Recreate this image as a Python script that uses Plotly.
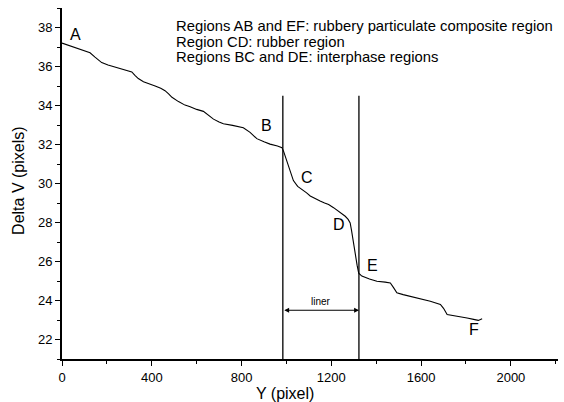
import plotly.graph_objects as go

# ---- data ----
y_pixel = [0, 20, 50, 80, 105, 125, 147, 177, 205, 236, 270, 311, 325, 340, 363, 390, 415, 440, 459, 475,
           490, 519, 548, 571, 600, 630, 655, 675, 700, 719, 760, 808, 838, 868, 900, 927, 960, 980, 987, 998,
           1009, 1031, 1050, 1069, 1090, 1106, 1130, 1150, 1170, 1188, 1210, 1232, 1250, 1262, 1275, 1284,
           1290, 1296, 1307, 1315, 1322, 1336, 1370, 1403, 1440, 1463, 1478, 1492, 1520, 1552, 1600, 1641,
           1686, 1700, 1716, 1740, 1775, 1805, 1834, 1855, 1872]
delta_v = [37.20, 37.12, 37.00, 36.90, 36.80, 36.70, 36.48, 36.20, 36.08, 35.98, 35.85, 35.72, 35.55, 35.38,
           35.22, 35.12, 35.00, 34.88, 34.76, 34.60, 34.42, 34.20, 34.02, 33.94, 33.80, 33.70, 33.50, 33.30,
           33.16, 33.06, 32.98, 32.86, 32.62, 32.30, 32.14, 32.02, 31.92, 31.84, 31.66, 31.30, 30.90, 30.15,
           29.85, 29.70, 29.52, 29.36, 29.20, 29.10, 29.00, 28.92, 28.76, 28.58, 28.44, 28.32, 28.16, 27.98,
           27.60, 27.10, 26.30, 25.80, 25.40, 25.25, 25.10, 24.99, 24.94, 24.90, 24.65, 24.40, 24.30, 24.22,
           24.08, 23.96, 23.80, 23.60, 23.28, 23.24, 23.18, 23.10, 23.03, 22.98, 23.06]

liner_bounds = [984, 1323]
liner_top = 34.5
liner_arrow_y = 23.5
liner_label = "liner"

point_labels = ["A", "B", "C", "D", "E", "F"]
point_label_x = [62, 910, 1092, 1235, 1382, 1837]
point_label_y = [37.62, 32.95, 30.33, 27.9, 25.8, 22.5]

notes = ["Regions AB and EF: rubbery particulate composite region",
         "Region CD: rubber region",
         "Regions BC and DE: interphase regions"]

x_ticks = [0, 400, 800, 1200, 1600, 2000]
y_ticks = [22, 24, 26, 28, 30, 32, 34, 36, 38]
x_range = [0, 2210]
y_range = [21, 39]

FONT = "Liberation Sans, Arial, sans-serif"

fig = go.Figure()
fig.add_trace(go.Scatter(x=y_pixel, y=delta_v, mode="lines",
                         line=dict(color="black", width=1.1), showlegend=False))
for b in liner_bounds:
    fig.add_trace(go.Scatter(x=[b, b], y=[y_range[0], liner_top], mode="lines",
                             line=dict(color="black", width=1.3), showlegend=False))

annotations = []
# double arrow for liner
annotations.append(dict(x=liner_bounds[1], y=liner_arrow_y, ax=liner_bounds[0], ay=liner_arrow_y,
                        xref="x", yref="y", axref="x", ayref="y", text="", showarrow=True,
                        arrowhead=2, arrowside="end+start", arrowsize=0.8, arrowwidth=1.2,
                        arrowcolor="black", standoff=0, startstandoff=0))
annotations.append(dict(x=sum(liner_bounds) / 2, y=liner_arrow_y, xref="x", yref="y",
                        text=liner_label, showarrow=False, yanchor="bottom", yshift=1,
                        font=dict(family=FONT, size=10, color="black")))
for t, xx, yy in zip(point_labels, point_label_x, point_label_y):
    annotations.append(dict(x=xx, y=yy, xref="x", yref="y", text=t, showarrow=False,
                            font=dict(family=FONT, size=16, color="black")))
for i, t in enumerate(notes):
    annotations.append(dict(x=0.226, y=0.976 - i * 0.043, xref="paper", yref="paper", text=t,
                            showarrow=False, xanchor="left", yanchor="top",
                            font=dict(family=FONT, size=14.8, color="black")))
# axis titles
annotations.append(dict(x=0.45, y=-0.097, xref="paper", yref="paper", text="Y (pixel)",
                        showarrow=False, xanchor="center", yanchor="middle",
                        font=dict(family=FONT, size=16, color="black")))
annotations.append(dict(x=-0.089, y=0.507, xref="paper", yref="paper", text="Delta V (pixels)",
                        showarrow=False, xanchor="center", yanchor="middle", textangle=-90,
                        font=dict(family=FONT, size=16, color="black")))

fig.update_layout(
    width=564, height=402,
    margin=dict(l=62, r=6, t=8, b=43),
    paper_bgcolor="white", plot_bgcolor="white",
    annotations=annotations,
    font=dict(family=FONT, color="black"),
)
fig.update_xaxes(range=x_range, tickvals=x_ticks, ticks="outside", ticklen=5, tickwidth=1.3,
                 tickcolor="black", showline=True, linecolor="black", linewidth=2, showgrid=False,
                 zeroline=False, tickfont=dict(family=FONT, size=13, color="black"),
                 minor=dict(dtick=200, tick0=0, ticks="outside", ticklen=3, tickcolor="black", showgrid=False))
fig.update_yaxes(range=y_range, tickvals=y_ticks, ticks="outside", ticklen=5, tickwidth=1.3,
                 tickcolor="black", showline=True, linecolor="black", linewidth=2, showgrid=False,
                 zeroline=False, tickfont=dict(family=FONT, size=13, color="black"),
                 minor=dict(dtick=1, tick0=21, ticks="outside", ticklen=3, tickcolor="black", showgrid=False))

fig.write_html("out.html", config={"displayModeBar": False},
               post_script="document.body.style.margin='0';document.body.style.overflow='hidden';")
